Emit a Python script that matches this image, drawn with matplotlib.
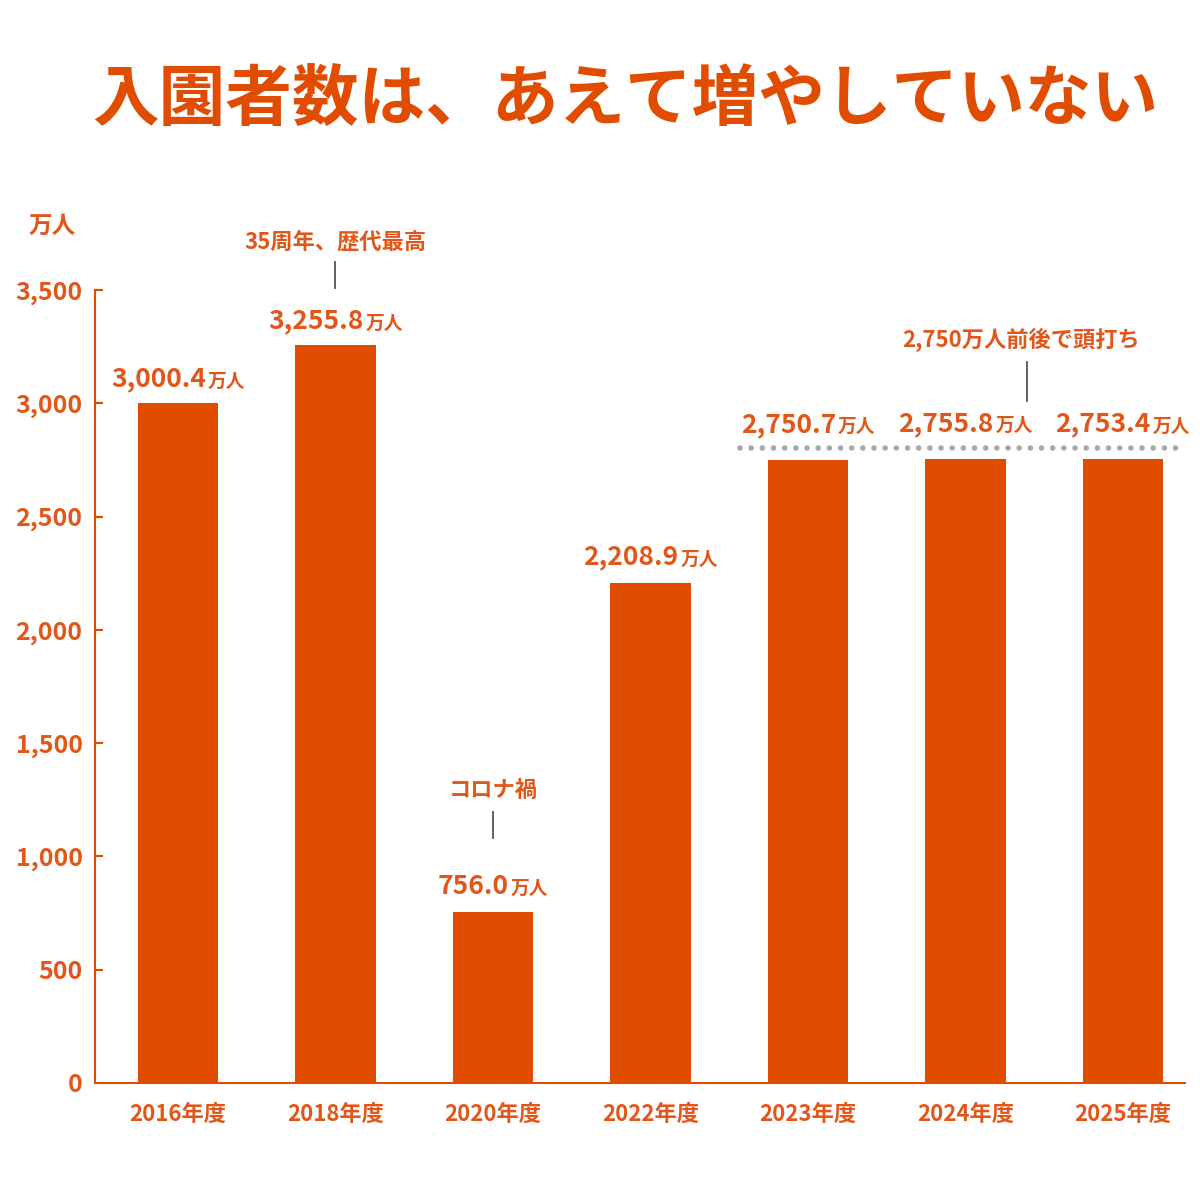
import matplotlib
matplotlib.use("Agg")
import matplotlib.pyplot as plt
import numpy as np

plt.rcParams['font.family'] = ['Noto Sans CJK JP', 'DejaVu Sans']

# データ
years = ['2016年度', '2018年度', '2020年度', '2022年度', '2023年度', '2024年度', '2025年度']
visitors = [3000.4, 3255.8, 756.0, 2208.9, 2750.7, 2755.8, 2753.4]
value_texts = ['3,000.4', '3,255.8', '756.0', '2,208.9', '2,750.7', '2,755.8', '2,753.4']
yticks = [0, 500, 1000, 1500, 2000, 2500, 3000, 3500]
ytick_labels = ['0', '500', '1,000', '1,500', '2,000', '2,500', '3,000', '3,500']

BAR = '#E14D00'
TXT = '#E2561A'
DPI = 100

fig = plt.figure(figsize=(12, 12), dpi=DPI)
ax = fig.add_axes([95/1200, 1 - 1083/1200, 1090/1200, 793/1200])

x = np.arange(len(years))
ax.bar(x, visitors, width=0.51, color=BAR, zorder=2)

ax.set_xlim(-0.527, 6.394)
ax.set_ylim(0, 3500)
ax.set_yticks(yticks)
ax.set_yticklabels(ytick_labels)
ax.set_xticks(x)
ax.set_xticklabels(years)

for s in ['top', 'right']:
    ax.spines[s].set_visible(False)
for s in ['left', 'bottom']:
    ax.spines[s].set_color(BAR)
    ax.spines[s].set_linewidth(1.5)

ax.tick_params(axis='y', direction='in', length=6, width=1.5, color=BAR,
               labelsize=18, labelcolor=TXT, pad=9)
ax.tick_params(axis='x', length=0, labelsize=16, labelcolor=TXT, pad=14)
for lab in ax.get_yticklabels() + ax.get_xticklabels():
    lab.set_fontweight('bold')

# 2,750万人前後の点線
ax.plot([3.57, 6.394], [2802, 2802], color='#A8A8A8', lw=4,
        linestyle=(0, (0.01, 2.0)), dash_capstyle='round', clip_on=False, zorder=3)

# 値ラベル (数字 + 万人)
offsets = [12, 12, 13, 13, 20, 20, 20]
labels = []
for i, (v, t) in enumerate(zip(visitors, value_texts)):
    t1 = ax.annotate(t, (i, v), xytext=(0, offsets[i]), textcoords='offset points',
                     ha='right', va='baseline', fontsize=19, fontweight='bold',
                     color=TXT, annotation_clip=False)
    t2 = ax.annotate('万人', (i, v), xytext=(0, offsets[i]), textcoords='offset points',
                     ha='left', va='baseline', fontsize=13.5, fontweight='bold',
                     color=TXT, annotation_clip=False)
    labels.append((t1, t2, offsets[i]))

fig.canvas.draw()
r = fig.canvas.get_renderer()
for t1, t2, dy in labels:
    w1 = t1.get_window_extent(r).width
    w2 = t2.get_window_extent(r).width
    gap = 2
    total = w1 + w2 + gap
    dx = (-total / 2 + w1) * 72 / DPI
    t1.set_position((dx, dy))
    t2.set_position((dx + gap * 72 / DPI, dy))

# 注釈
def note(text, xc, yc, xl, y0, y1):
    ax.text(xc, yc, text, ha='center', va='center', fontsize=16,
            fontweight='bold', color=TXT, clip_on=False)
    ax.plot([xl, xl], [y0, y1], color='#555555', lw=1.3, clip_on=False)

note('35周年、歴代最高', 1.0, 3712, 1.0, 3509, 3624)
note('コロナ禍', 2.0, 1293, 2.0, 1081, 1196)
note('2,750万人前後で頭打ち', 5.35, 3279, 5.39, 3010, 3182)

fig.text(52/1200, 1 - 226/1200, '万人', ha='center', va='center',
         fontsize=17, fontweight='bold', color=TXT)
fig.text(625/1200, 1 - 100/1200, '入園者数は、あえて増やしていない',
         ha='center', va='center', fontsize=48, fontweight='bold', color=BAR)

fig.savefig('out.png', dpi=DPI)
